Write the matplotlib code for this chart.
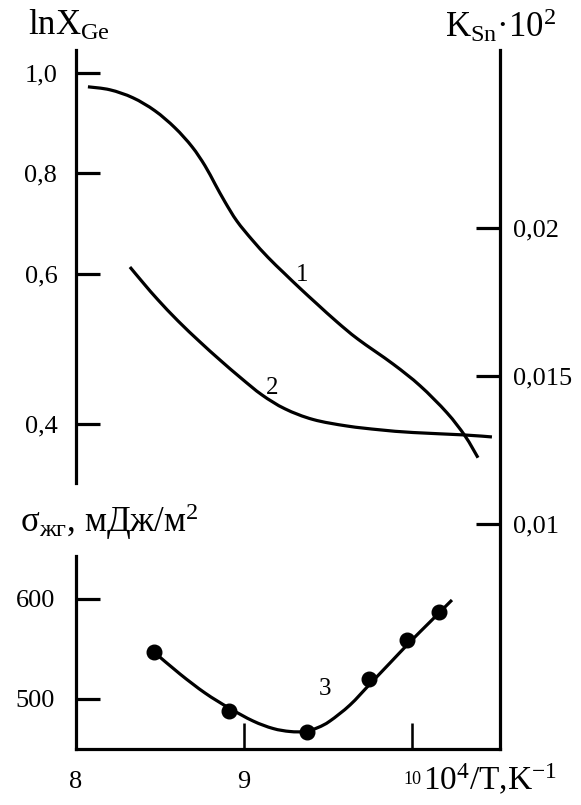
import numpy as np
import matplotlib
matplotlib.use("Agg")
import matplotlib.pyplot as plt
from matplotlib.path import Path
from matplotlib.patches import PathPatch

plt.rcParams['font.family'] = ['Liberation Serif', 'DejaVu Serif']
plt.rcParams['mathtext.fontset'] = 'custom'
plt.rcParams['mathtext.rm'] = 'Liberation Serif'
plt.rcParams['mathtext.it'] = 'Liberation Serif:italic'
plt.rcParams['mathtext.bf'] = 'Liberation Serif:bold'

# ---------------- data ----------------
# curve 1: lnX_Ge vs 10^4/T
curve1_x = [8.071, 8.202, 8.339, 8.470, 8.589, 8.691, 8.768, 8.827, 8.887, 8.958,
            9.048, 9.143, 9.238, 9.333, 9.435, 9.554, 9.679, 9.887, 10.048, 10.208,
            10.316, 10.393]
curve1_lnx = [0.973, 0.967, 0.951, 0.925, 0.891, 0.853, 0.815, 0.779, 0.743, 0.705,
              0.668, 0.633, 0.602, 0.581, 0.560, 0.536, 0.513, 0.480, 0.451, 0.415,
              0.384, 0.355]

# curve 2: K_Sn*10^2 vs 10^4/T
curve2_x = [8.321, 8.405, 8.488, 8.607, 8.738, 8.857, 8.982, 9.107, 9.244, 9.411,
            9.613, 9.810, 10.006, 10.304, 10.476]
curve2_k = [0.01868, 0.01811, 0.01757, 0.01686, 0.01615, 0.01554, 0.01493, 0.01436,
            0.01389, 0.01353, 0.01331, 0.01318, 0.01309, 0.01301, 0.01294]

# curve 3: sigma (mJ/m^2) vs 10^4/T -- measured points
sigma_pts_x = [8.464, 8.911, 9.377, 9.744, 9.972, 10.161]
sigma_pts_y = [546.8, 487.8, 466.8, 519.2, 558.5, 586.8]
# curve 3: drawn smooth line
sigma_line_x = [8.464, 8.619, 8.768, 8.911, 9.054, 9.173, 9.274, 9.363, 9.441, 9.512,
                9.631, 9.750, 9.869, 9.988, 10.107, 10.238]
sigma_line_y = [546.5, 524.5, 505.5, 490.5, 477.5, 470.0, 467.0, 467.0, 471.0, 477.5,
                493.5, 514.5, 535.5, 556.5, 576.5, 598.5]

lnx_ticks = [1.0, 0.8, 0.6, 0.4]
lnx_ticklabels = ['1,0', '0,8', '0,6', '0,4']
k_ticks = [0.02, 0.015, 0.01]
k_ticklabels = ['0,02', '0,015', '0,01']
sigma_ticks = [600, 500]
sigma_ticklabels = ['600', '500']
x_ticks = [8, 9, 10]
x_ticklabels = ['8', '9', '10']

curve_labels = ['1', '2', '3']

# ---------------- layout ----------------
W, H = 581, 805
fig = plt.figure(figsize=(W / 100, H / 100), dpi=100)

def rect(x0, y0, x1, y1):
    return [x0 / W, 1 - y1 / H, (x1 - x0) / W, (y1 - y0) / H]

LW = 2.3
TICKLEN = 17.3
FS = 19
XLIM = (8.0, 10.524)


def smooth_curve(ax, xs, ys, fwd=None, inv=None):
    """Draw a smooth (Catmull-Rom as cubic Bezier) line through the read points."""
    xs = np.asarray(xs, float)
    ys = np.asarray(ys, float)
    if fwd is not None:
        ys = fwd(ys)
    P = np.column_stack([xs, ys])
    verts = [P[0]]
    codes = [Path.MOVETO]
    n = len(P)
    for i in range(n - 1):
        p0 = P[i - 1] if i > 0 else P[i]
        p1 = P[i]
        p2 = P[i + 1]
        p3 = P[i + 2] if i + 2 < n else P[i + 1]
        c1 = p1 + (p2 - p0) / 6.0
        c2 = p2 - (p3 - p1) / 6.0
        verts += [c1, c2, p2]
        codes += [Path.CURVE4] * 3
    verts = np.array(verts)
    if inv is not None:
        verts[:, 1] = inv(verts[:, 1])
    patch = PathPatch(Path(verts, codes), facecolor='none', edgecolor='black',
                      lw=LW, capstyle='butt', transform=ax.transData)
    ax.add_patch(patch)


# right full-height axis (K_Sn)
ax_r = fig.add_axes(rect(76, 50, 500, 749))
ax_r.patch.set_visible(False)
for s in ['left', 'top', 'bottom']:
    ax_r.spines[s].set_visible(False)
ax_r.spines['right'].set_linewidth(LW)
ax_r.set_xlim(*XLIM)
ax_r.set_ylim(0.0024, 0.02601)
ax_r.set_xticks([])
ax_r.yaxis.tick_right()
ax_r.set_yticks(k_ticks)
ax_r.set_yticklabels(k_ticklabels)
ax_r.tick_params(axis='y', direction='in', length=TICKLEN, width=LW, labelsize=FS, pad=9)

# top-left axis (lnX_Ge) with the uneven spacing of the original drawing
_v = [0.0, 0.4, 0.6, 0.8, 1.0, 2.0]
_t = [-724.0, -424.0, -274.0, -173.3, -73.3, 426.7]
def fwd(v):
    return np.interp(v, _v, _t)
def inv(t):
    return np.interp(t, _t, _v)

ax_l = fig.add_axes(rect(76, 50, 500, 483))
ax_l.patch.set_visible(False)
for s in ['right', 'top', 'bottom']:
    ax_l.spines[s].set_visible(False)
ax_l.spines['left'].set_linewidth(LW)
ax_l.set_yscale('function', functions=(fwd, inv))
ax_l.set_xlim(*XLIM)
ax_l.set_ylim(0.3213, 1.0466)
ax_l.set_xticks([])
ax_l.set_yticks(lnx_ticks)
ax_l.set_yticklabels(lnx_ticklabels)
ax_l.yaxis.set_minor_locator(matplotlib.ticker.NullLocator())
ax_l.tick_params(axis='y', direction='in', length=TICKLEN, width=LW, labelsize=FS, pad=13.5)

smooth_curve(ax_l, curve1_x, curve1_lnx, fwd, inv)
smooth_curve(ax_r, curve2_x, curve2_k)
ax_l.text(9.345, 0.599, curve_labels[0], fontsize=18, ha='center', va='center')
ax_r.text(9.167, 0.01460, curve_labels[1], fontsize=18, ha='center', va='center')

# bottom axis (sigma)
ax_b = fig.add_axes(rect(76, 556, 500, 749))
ax_b.patch.set_visible(False)
for s in ['right', 'top']:
    ax_b.spines[s].set_visible(False)
ax_b.spines['left'].set_linewidth(LW)
ax_b.spines['bottom'].set_linewidth(LW)
ax_b.set_xlim(*XLIM)
ax_b.set_ylim(449.5, 642.5)
ax_b.set_yticks(sigma_ticks)
ax_b.set_yticklabels(sigma_ticklabels)
ax_b.set_xticks(x_ticks)
ax_b.set_xticklabels(x_ticklabels)
ax_b.tick_params(axis='y', direction='in', length=TICKLEN, width=LW, labelsize=FS, pad=15)
ax_b.tick_params(axis='x', direction='in', length=18.7, width=LW * 0.8, labelsize=FS, pad=16)
ax_b.get_xticklabels()[2].set_fontsize(13)

smooth_curve(ax_b, sigma_line_x, sigma_line_y)
ax_b.plot(sigma_pts_x, sigma_pts_y, 'o', color='black', ms=10.5)
ax_b.text(9.482, 510, curve_labels[2], fontsize=18, ha='center', va='center')

# axis titles
def ftext(x, y, s, **kw):
    fig.text(x / W, 1 - y / H, s, ha='left', va='baseline', **kw)

ftext(28, 35, r'lnX$_{\mathrm{Ge}}$', fontsize=25)
ftext(445, 37, r'K$_{\mathrm{Sn}}$·10$^{2}$', fontsize=25)
ftext(20, 532, r'σ$_{\mathrm{жг}}$, мДж/м$^{2}$', fontsize=25)
ftext(423, 790, r'10$^{4}$/T,K$^{-1}$', fontsize=24)

fig.savefig('out.png', dpi=100)
